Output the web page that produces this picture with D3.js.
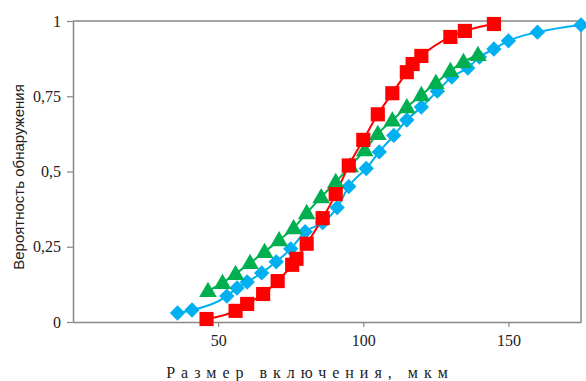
<!DOCTYPE html>
<html>
<head>
<meta charset="utf-8">
<script src="https://d3js.org/d3.v7.min.js"></script>
<style>
body { margin: 0; background: #fff; }
</style>
</head>
<body>
<div id="chart"></div>
<script>
// series: [size, probability]
var redX = [46, 56, 60, 65.5, 70.5, 75.5, 77, 80.5, 86, 90.5, 95, 100, 105, 110, 115, 117, 120, 130, 135, 145];
var redY = [0.01, 0.037, 0.06, 0.093, 0.136, 0.19, 0.21, 0.26, 0.345, 0.425, 0.52, 0.605, 0.69, 0.76, 0.83, 0.857, 0.884, 0.947, 0.967, 0.99];

var greenX = [46.5, 51.5, 56, 61, 66, 71, 76, 80.5, 85.5, 90.5, 95.5, 100.5, 105, 110, 115, 120, 125, 130, 134.5, 139.5];
var greenY = [0.103, 0.13, 0.16, 0.196, 0.233, 0.272, 0.312, 0.362, 0.415, 0.465, 0.518, 0.571, 0.625, 0.67, 0.714, 0.754, 0.794, 0.834, 0.864, 0.887];

var blueX = [36, 41, 53, 56.5, 60, 65, 70, 75, 80, 86, 91, 95, 101, 105.5, 110.5, 115, 120, 125.5, 130.5, 136, 140, 145, 150, 160, 175];
var blueY = [0.03, 0.04, 0.086, 0.113, 0.133, 0.163, 0.2, 0.243, 0.3, 0.33, 0.38, 0.45, 0.51, 0.565, 0.62, 0.671, 0.714, 0.767, 0.814, 0.844, 0.88, 0.907, 0.934, 0.963, 0.987];

var xTicks = [50, 100, 150];
var yTicks = [0, 0.25, 0.5, 0.75, 1];
var yTickLabels = ["0", "0,25", "0,5", "0,75", "1"];

var width = 586, height = 381;
var margin = {left: 73, right: 5, top: 21, bottom: 59};

var svg = d3.select("#chart").append("svg")
	.attr("width", width)
	.attr("height", height);

var x = d3.scaleLinear().domain([0, 175]).range([margin.left, width - margin.right]);
var y = d3.scaleLinear().domain([0, 1]).range([height - margin.bottom, margin.top]);

var axisColor = "#888888";

// frame (top and right)
svg.append("path")
	.attr("d", "M" + x(0) + "," + y(1) + "H" + x(175) + "V" + y(0))
	.attr("fill", "none")
	.attr("stroke", axisColor)
	.attr("stroke-width", 1.5);

// x axis
var xAxis = svg.append("g")
	.attr("transform", "translate(0," + y(0) + ")")
	.call(d3.axisBottom(x).tickValues(xTicks).tickSize(5).tickSizeOuter(0).tickPadding(8));
// y axis
var yAxis = svg.append("g")
	.attr("transform", "translate(" + x(0) + ",0)")
	.call(d3.axisLeft(y).tickValues(yTicks).tickSize(6).tickSizeOuter(0).tickPadding(6)
		.tickFormat(function(d, i){ return yTickLabels[i]; }));

[xAxis, yAxis].forEach(function(a){
	a.select(".domain").attr("stroke", axisColor).attr("stroke-width", 1.5);
	a.selectAll(".tick line").attr("stroke", axisColor).attr("stroke-width", 1.2);
	a.selectAll(".tick text")
		.attr("fill", "#222")
		.style("font-family", "'Liberation Serif', 'Times New Roman', serif")
		.style("font-size", "16px");
});

function pairs(xs, ys){
	return xs.map(function(v, i){ return [v, ys[i]]; });
}

var line = d3.line()
	.x(function(d){ return x(d[0]); })
	.y(function(d){ return y(d[1]); })
	.curve(d3.curveMonotoneX);

var series = [
	{name: "blue", data: pairs(blueX, blueY), color: "#00B0F0", symbol: d3.symbolDiamond2, size: 150},
	{name: "green", data: pairs(greenX, greenY), color: "#00B050", symbol: d3.symbolTriangle, size: 135},
	{name: "red", data: pairs(redX, redY), color: "#FF0000", symbol: d3.symbolSquare, size: 200}
];

series.forEach(function(s){
	svg.append("path")
		.datum(s.data)
		.attr("d", line)
		.attr("fill", "none")
		.attr("stroke", s.color)
		.attr("stroke-width", 2);
});

series.forEach(function(s){
	var sym = d3.symbol().type(s.symbol).size(s.size);
	svg.append("g").selectAll("path")
		.data(s.data)
		.enter()
		.append("path")
		.attr("d", sym)
		.attr("transform", function(d){
			var dy = s.symbol === d3.symbolTriangle ? 1 : 0;
			return "translate(" + x(d[0]) + "," + (y(d[1]) + dy) + ")";
		})
		.attr("fill", s.color);
});

// axis titles
svg.append("text")
	.attr("x", 310)
	.attr("y", 378)
	.attr("text-anchor", "middle")
	.attr("fill", "#222")
	.style("font-family", "'Liberation Serif', 'Times New Roman', serif")
	.style("font-size", "16px")
	.style("letter-spacing", "6px")
	.text("Размер включения, мкм");

svg.append("text")
	.attr("transform", "translate(24,177) rotate(-90)")
	.attr("text-anchor", "middle")
	.attr("fill", "#222")
	.style("font-family", "'Liberation Sans', Arial, sans-serif")
	.style("font-size", "15px")
	.text("Вероятность обнаружения");
</script>
</body>
</html>
